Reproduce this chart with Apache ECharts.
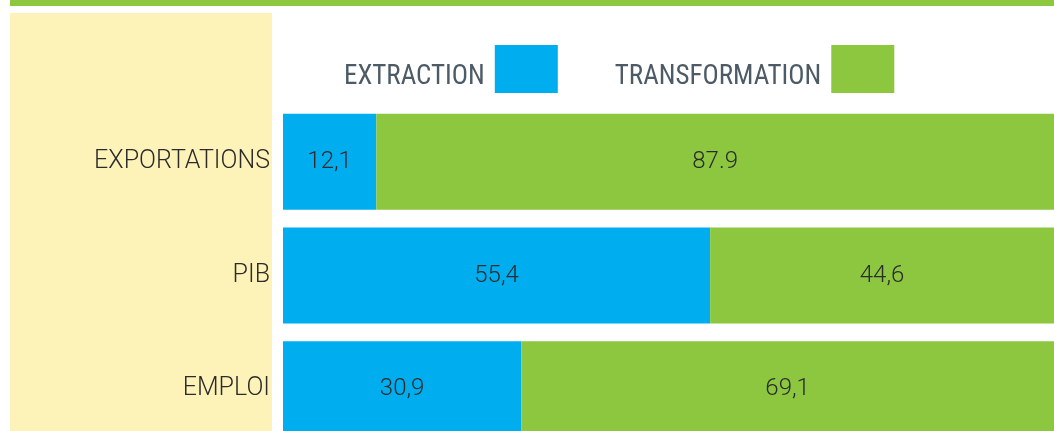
<!DOCTYPE html>
<html>
<head>
<meta charset="utf-8">
<script src="https://cdn.jsdelivr.net/npm/echarts@6/dist/echarts.min.js"></script>
<style>
  html, body { margin: 0; padding: 0; background: #fff; overflow: hidden; }
  /* taller than the window: the last bar is cut off at the bottom like the source */
  #chart { width: 1054px; height: 446px; }
</style>
</head>
<body>
<div id="chart"></div>
<script>
// categories, top to bottom
const categories = ['EXPORTATIONS', 'PIB', 'EMPLOI']
// shares in percent
const extraction = [12.1, 55.4, 30.9]
const transformation = [87.9, 44.6, 69.1]
// labels as printed in the source (mixed decimal marks)
const extractionLabels = ['12,1', '55,4', '30,9']
const transformationLabels = ['87.9', '44,6', '69,1']

const BLUE = '#00aeef'
const GREEN = '#8dc63f'

const chart = echarts.init(document.getElementById('chart'))

const valueLabel = (texts) => ({
  show: true,
  position: 'inside',
  color: '#2b2b2b',
  fontFamily: 'Roboto',
  fontWeight: 300,
  fontSize: 24,
  formatter: (p) => texts[p.dataIndex]
})

const legendFont = '"Liberation Sans Narrow", "Roboto Condensed", "DejaVu Sans Condensed", Roboto, sans-serif'

chart.setOption({
  animation: false,
  graphic: [
    // top rule
    { type: 'rect', shape: { x: 10, y: 0, width: 1044, height: 6 }, style: { fill: GREEN }, z: -10 },
    // yellow label panel
    { type: 'rect', shape: { x: 10, y: 13, width: 262, height: 440 }, style: { fill: '#fdf3b9' }, z: -10 }
  ],
  legend: {
    left: 344,
    top: 45,
    width: 700,
    padding: 0,
    align: 'right',
    itemWidth: 63,
    itemHeight: 48,
    itemGap: 57,
    icon: 'rect',
    // text sits a little below the square's centre in the source
    formatter: '{t|{name}}',
    textStyle: {
      fontFamily: legendFont,
      fontSize: 27,
      color: '#4d5b66',
      padding: [0, 5, 0, 0],
      rich: {
        t: {
          fontFamily: legendFont,
          fontSize: 27,
          color: '#4d5b66',
          padding: [16, 0, 0, 0]
        }
      }
    },
    data: ['EXTRACTION', 'TRANSFORMATION']
  },
  grid: { left: 283, top: 105, width: 771, height: 341 },
  xAxis: { type: 'value', min: 0, max: 100, show: false },
  yAxis: {
    type: 'category',
    inverse: true,
    data: categories,
    axisLine: { show: false },
    axisTick: { show: false },
    axisLabel: {
      margin: 13,
      color: '#2b2b2b',
      fontFamily: 'Roboto',
      fontWeight: 300,
      fontSize: 25
    }
  },
  series: [
    {
      name: 'EXTRACTION',
      type: 'bar',
      stack: 'total',
      barWidth: 96,
      itemStyle: { color: BLUE },
      label: valueLabel(extractionLabels),
      data: extraction
    },
    {
      name: 'TRANSFORMATION',
      type: 'bar',
      stack: 'total',
      barWidth: 96,
      itemStyle: { color: GREEN },
      label: valueLabel(transformationLabels),
      data: transformation
    }
  ]
})
</script>
</body>
</html>
